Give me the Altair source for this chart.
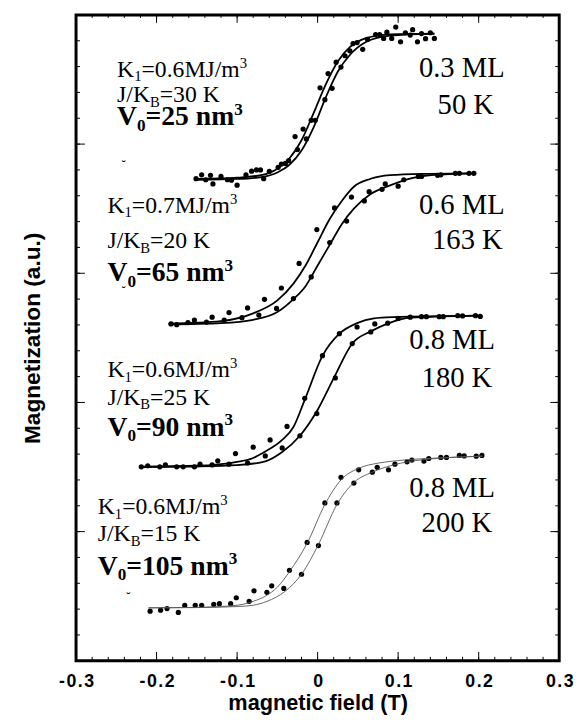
import altair as alt
import pandas as pd

# ---------------- data (magnetic field in T, magnetization in a.u.) ----------------
# 0.3 ML, 50 K
d1_x = [-0.151,-0.144,-0.139,-0.133,-0.130,-0.120,-0.112,-0.107,-0.100,-0.089,-0.082,-0.076,-0.071,-0.067,-0.060,
        -0.049,-0.045,-0.040,-0.036,-0.028,-0.025,-0.018,-0.014,-0.008,-0.003,0.003,0.009,0.013,0.018,0.023,
        0.029,0.034,0.040,0.044,0.049,0.056,0.062,0.072,0.077,0.082,0.086,0.092,0.097,0.103,0.109,0.115,0.118,
        0.124,0.129,0.134,0.140,0.145]
d1_y = [18.66,18.81,18.62,18.79,18.46,18.75,18.62,18.60,18.41,18.81,18.95,19.00,19.00,18.66,18.94,
        19.10,19.23,19.25,19.36,20.29,19.79,20.58,20.20,20.92,20.92,22.18,21.72,22.73,22.16,23.17,
        22.98,23.42,23.61,23.89,23.93,23.67,24.05,24.24,24.24,24.09,24.33,24.09,24.53,23.96,24.31,24.22,24.43,
        23.96,24.28,24.08,24.31,24.09]
# 0.6 ML, 163 K
d2_x = [-0.182,-0.175,-0.161,-0.153,-0.138,-0.131,-0.116,-0.110,-0.094,-0.087,-0.073,-0.066,-0.051,-0.045,-0.030,
        -0.023,-0.008,-0.001,0.015,0.021,0.036,0.042,0.058,0.064,0.080,0.084,0.100,0.107,0.125,0.129,
        0.149,0.153,0.171,0.176,0.188,0.194]
d2_y = [13.04,13.01,13.09,13.19,13.11,13.30,13.19,13.48,13.28,13.66,13.38,13.99,13.64,14.43,14.02,
        15.38,14.86,16.69,16.19,17.53,17.02,17.95,17.80,18.16,18.25,18.46,18.37,18.62,18.75,18.75,
        18.79,18.81,18.87,18.87,18.87,18.87]
# 0.8 ML, 180 K
d3_x = [-0.219,-0.211,-0.196,-0.189,-0.175,-0.167,-0.153,-0.146,-0.131,-0.124,-0.110,-0.102,-0.087,-0.080,-0.065,
        -0.059,-0.044,-0.038,-0.022,-0.016,-0.001,0.006,0.022,0.027,0.043,0.049,0.066,0.071,0.087,0.100,
        0.115,0.129,0.135,0.151,0.156,0.174,0.180,0.196,0.202]
d3_y = [7.51,7.55,7.51,7.58,7.51,7.51,7.51,7.61,7.58,7.74,7.61,8.02,7.66,8.27,7.93,
        8.55,8.24,9.07,8.71,10.16,9.57,11.81,10.95,12.66,12.28,12.92,12.73,13.04,13.07,13.25,
        13.30,13.32,13.32,13.32,13.32,13.36,13.35,13.36,13.33]
# 0.8 ML, 200 K
d4_x = [-0.208,-0.195,-0.187,-0.173,-0.165,-0.152,-0.144,-0.129,-0.122,-0.108,-0.101,-0.085,-0.079,-0.063,-0.057,
        -0.042,-0.035,-0.020,-0.013,0.001,0.009,0.024,0.029,0.045,0.051,0.068,0.074,0.088,0.096,0.111,
        0.117,0.132,0.138,0.153,0.160,0.176,0.182,0.197,0.204]
d4_y = [1.92,1.96,2.02,1.87,2.15,2.15,2.15,2.18,2.21,2.21,2.44,2.30,2.71,2.65,2.90,
        2.80,3.50,3.35,4.58,4.46,6.11,6.11,7.10,6.88,7.39,7.30,7.49,7.39,7.61,7.70,
        7.77,7.73,7.83,7.87,7.87,7.95,7.93,7.92,7.95]

# fitted curves (two branches each)
c1u_x = [-0.15,-0.10,-0.07,-0.05,-0.035,-0.02,-0.005,0.01,0.025,0.04,0.06,0.09,0.145]
c1u_y = [18.65,18.70,18.80,19.05,19.45,20.15,21.20,22.30,23.20,23.75,24.10,24.25,24.28]
c1l_x = [-0.15,-0.10,-0.07,-0.05,-0.035,-0.02,-0.005,0.01,0.025,0.04,0.06,0.09,0.145]
c1l_y = [18.62,18.65,18.72,18.90,19.20,19.75,20.65,21.80,22.80,23.45,23.95,24.20,24.28]

c2u_x = [-0.185,-0.12,-0.08,-0.05,-0.03,-0.015,0.0,0.015,0.03,0.045,0.065,0.09,0.13,0.195]
c2u_y = [13.05,13.15,13.45,13.95,14.60,15.30,16.20,17.10,17.80,18.35,18.65,18.80,18.85,18.87]
c2l_x = [-0.185,-0.12,-0.08,-0.05,-0.03,-0.015,0.0,0.015,0.03,0.045,0.065,0.09,0.12,0.15,0.195]
c2l_y = [13.02,13.07,13.20,13.50,14.00,14.50,15.30,16.10,16.90,17.50,18.05,18.40,18.70,18.82,18.87]

c3u_x = [-0.22,-0.15,-0.10,-0.08,-0.065,-0.044,-0.03,-0.016,0.006,0.027,0.049,0.07,0.094,0.20]
c3u_y = [7.52,7.55,7.70,7.85,8.10,8.55,9.05,10.10,11.80,12.66,13.07,13.25,13.30,13.36]
c3l_x = [-0.22,-0.15,-0.10,-0.065,-0.044,-0.022,-0.001,0.021,0.043,0.066,0.087,0.115,0.20]
c3l_y = [7.50,7.52,7.57,7.72,8.08,8.71,9.66,11.00,12.28,12.75,13.05,13.28,13.36]

c4u_x = [-0.21,-0.15,-0.10,-0.08,-0.065,-0.05,-0.035,-0.013,0.009,0.029,0.051,0.075,0.10,0.15,0.205]
c4u_y = [2.05,2.07,2.15,2.30,2.50,2.85,3.45,4.55,6.05,7.00,7.45,7.65,7.75,7.85,7.92]
c4l_x = [-0.21,-0.15,-0.10,-0.08,-0.063,-0.04,-0.02,0.001,0.024,0.045,0.068,0.094,0.13,0.205]
c4l_y = [2.05,2.06,2.10,2.15,2.30,2.70,3.35,4.50,6.05,6.90,7.30,7.58,7.78,7.92]

# axis ticks and tick labels
x_major = [-0.3, -0.2, -0.1, 0.0, 0.1, 0.2, 0.3]
x_labels = ["-0.3", "-0.2", "-0.1", "0", "0.1", "0.2", "0.3"]
x_minor = [round(-0.3 + 0.02 * i, 3) for i in range(31)]
y_major = [0, 5, 10, 15, 20, 25]
y_minor = list(range(26))

# annotation texts
k_texts = ["0.6", "0.7", "0.6", "0.6"]
j_texts = ["30", "20", "25", "15"]
v_texts = ["25", "65", "90", "105"]
ml_texts = ["0.3 ML", "0.6 ML", "0.8 ML", "0.8 ML"]
t_texts = ["50 K", "163 K", "180 K", "200 K"]

# ---------------- layout / style ----------------
W, H = 490, 655
SERIF = "Liberation Serif"
SANS = "Liberation Sans"
xs = alt.Scale(domain=[-0.3, 0.3], nice=False, zero=False)
ys = alt.Scale(domain=[0, 25], nice=False, zero=False)

# anchor positions of annotation blocks (data units)
left_x = [-0.249, -0.261, -0.261, -0.273]
left_y1 = [22.61, 17.35, 10.98, 5.68]
left_y2 = [21.63, 15.98, 9.92, 4.62]
left_y3 = [20.72, 14.70, 8.71, 3.33]
right_x1 = [0.179, 0.179, 0.167, 0.167]
right_y1 = [22.61, 17.31, 12.05, 6.33]
right_x2 = [0.184, 0.186, 0.173, 0.173]
right_y2 = [21.17, 15.95, 10.61, 5.0]
mark_x = [-0.241, -0.241, None, -0.235]
mark_y = [19.2, 14.3, None, 2.45]

REG = {'0': 500, '1': 500, '2': 500, '3': 500, '4': 500, '5': 500, '6': 500, '7': 500, '8': 500, '9': 500,
       '.': 250, '=': 564, 'K': 722, 'M': 889, 'J': 389, '/': 278, 'm': 778, ' ': 250, 'B': 667,
       'n': 500, 'V': 722, 'L': 611}
BOLD = {'0': 500, '1': 500, '2': 500, '3': 500, '4': 500, '5': 500, '6': 500, '7': 500, '8': 500, '9': 500,
        '=': 570, ' ': 250, 'n': 556, 'm': 833, 'V': 722}

# letter-spaced tick labels, looked up by tick index
spaced = ["\u200a".join(list(s)) for s in x_labels]
label_expr = "[" + ",".join("'" + s + "'" for s in spaced) + "][round((datum.value + 0.3) * 10)]"

x_axis = alt.Axis(values=x_major, title="magnetic field (T)", ticks=False, domain=False, grid=False,
                  labelExpr=label_expr,
                  labelFont=SANS, labelFontWeight="bold", labelFontSize=18, labelPadding=12,
                  labelColor="black", labelOverlap=False, labelFlush=False,
                  titleFont=SANS, titleFontWeight="bold", titleFontSize=22, titlePadding=2, titleColor="black")
y_axis = alt.Axis(labels=False, ticks=False, domain=False, grid=False, title="Magnetization (a.u.)",
                  titleFont=SANS, titleFontWeight="bold", titleFontSize=23, titlePadding=32,
                  titleColor="black")

X = alt.X("x:Q", scale=xs, axis=x_axis)
Y = alt.Y("y:Q", scale=ys, axis=y_axis)


def text_w(s, fs, bold):
    tbl = BOLD if bold else REG
    return sum(tbl.get(c, 500) for c in s) / 1000.0 * fs


def rich(x, y, segments, size, bold):
    out = []
    off = 0.0
    for txt, kind in segments:
        if kind == "sub":
            fs, dy = size * 0.62, size * 0.2
        elif kind == "sup":
            fs, dy = size * 0.62, -size * 0.38
        else:
            fs, dy = size, 0
        df = pd.DataFrame({"x": [x], "y": [y], "t": [txt]})
        out.append(
            alt.Chart(df).mark_text(align="left", baseline="alphabetic", font=SERIF, fontSize=fs,
                                    fontWeight="bold" if bold else "normal", color="black",
                                    dx=off, dy=dy)
            .encode(x=X, y=Y, text="t:N")
        )
        off += text_w(txt, fs, bold)
    return out


# points
pts = pd.concat([
    pd.DataFrame({"x": d1_x, "y": d1_y, "s": "a"}),
    pd.DataFrame({"x": d2_x, "y": d2_y, "s": "b"}),
    pd.DataFrame({"x": d3_x, "y": d3_y, "s": "c"}),
    pd.DataFrame({"x": d4_x, "y": d4_y, "s": "d"}),
])

curves_bold = pd.concat([
    pd.DataFrame({"x": c1u_x, "y": c1u_y, "c": "1u"}),
    pd.DataFrame({"x": c1l_x, "y": c1l_y, "c": "1l"}),
    pd.DataFrame({"x": c2u_x, "y": c2u_y, "c": "2u"}),
    pd.DataFrame({"x": c2l_x, "y": c2l_y, "c": "2l"}),
    pd.DataFrame({"x": c3u_x, "y": c3u_y, "c": "3u"}),
    pd.DataFrame({"x": c3l_x, "y": c3l_y, "c": "3l"}),
])
curves_thin = pd.concat([
    pd.DataFrame({"x": c4u_x, "y": c4u_y, "c": "4u"}),
    pd.DataFrame({"x": c4l_x, "y": c4l_y, "c": "4l"}),
])

layers = []
layers.append(
    alt.Chart(pts).mark_circle(size=28, color="black", opacity=1)
    .encode(x=X, y=Y, detail="s:N")
)
layers.append(
    alt.Chart(curves_bold).mark_line(color="black", strokeWidth=1.8, interpolate="monotone")
    .encode(x=X, y=Y, detail="c:N", order="x:Q")
)
layers.append(
    alt.Chart(curves_thin).mark_line(color="#555555", strokeWidth=0.9, interpolate="monotone")
    .encode(x=X, y=Y, detail="c:N", order="x:Q")
)

# inward ticks on all four sides
xmaj = pd.DataFrame({"x": x_major})
xmin = pd.DataFrame({"x": x_minor})
ymaj = pd.DataFrame({"y": y_major})
ymin = pd.DataFrame({"y": y_minor})
for df, ln in [(xmaj, 9), (xmin, 4)]:
    layers.append(alt.Chart(df).mark_rule(color="black", strokeWidth=1)
                  .encode(x=X, y=alt.value(H), y2=alt.value(H - ln)))
    layers.append(alt.Chart(df).mark_rule(color="black", strokeWidth=1)
                  .encode(x=X, y=alt.value(0), y2=alt.value(ln - 1)))
for df, ln in [(ymaj, 9), (ymin, 4)]:
    layers.append(alt.Chart(df).mark_rule(color="black", strokeWidth=1)
                  .encode(y=Y, x=alt.value(0), x2=alt.value(ln)))
    layers.append(alt.Chart(df).mark_rule(color="black", strokeWidth=1)
                  .encode(y=Y, x=alt.value(W), x2=alt.value(W - ln)))

# annotations
for i in range(4):
    layers += rich(left_x[i], left_y1[i], [("K", "n"), ("1", "sub"), ("=" + k_texts[i] + "MJ/m", "n"), ("3", "sup")], 24, False)
    layers += rich(left_x[i], left_y2[i], [("J/K", "n"), ("B", "sub"), ("=" + j_texts[i] + " K", "n")], 24, False)
    layers += rich(left_x[i], left_y3[i], [("V", "n"), ("0", "sub"), ("=" + v_texts[i] + " nm", "n"), ("3", "sup")], 28, True)
    for (tx, ty, tt) in [(right_x1[i], right_y1[i], ml_texts[i]), (right_x2[i], right_y2[i], t_texts[i])]:
        layers.append(
            alt.Chart(pd.DataFrame({"x": [tx], "y": [ty], "t": [tt]}))
            .mark_text(align="center", baseline="alphabetic", font=SERIF, fontSize=29, color="black")
            .encode(x=X, y=Y, text="t:N")
        )
    if mark_x[i] is not None:
        layers.append(
            alt.Chart(pd.DataFrame({"x": [mark_x[i]], "y": [mark_y[i]], "t": ["˘"]}))
            .mark_text(align="center", baseline="middle", font=SERIF, fontSize=13, color="black")
            .encode(x=X, y=Y, text="t:N")
        )

chart = (
    alt.layer(*layers)
    .properties(width=W, height=H, autosize=alt.AutoSizeParams(type="none"),
                padding={"left": 69, "top": 2, "right": 15, "bottom": 53})
    .configure_view(stroke="black", strokeWidth=3)
)

chart.save("out.html", embed_options={"renderer": "svg", "actions": False})
